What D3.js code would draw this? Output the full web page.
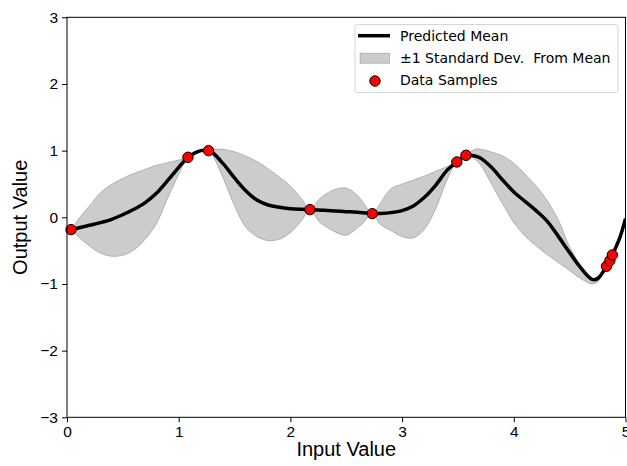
<!DOCTYPE html>
<html>
<head>
<meta charset="utf-8">
<script src="https://cdn.jsdelivr.net/npm/d3@7"></script>
<style>
  html, body { margin: 0; padding: 0; background: #fff; }
  svg { display: block; }
</style>
</head>
<body>
<script>
// ---- data ----
const xGrid = [0, 0.036, 0.1, 0.2, 0.3, 0.4, 0.5, 0.6, 0.7, 0.8, 0.9, 1.0, 1.083, 1.15, 1.2, 1.267, 1.3, 1.4, 1.5, 1.6, 1.7, 1.8, 1.9, 2.0, 2.1, 2.175, 2.25, 2.3, 2.4, 2.5, 2.6, 2.65, 2.733, 2.8, 2.9, 3.0, 3.1, 3.2, 3.3, 3.4, 3.49, 3.572, 3.65, 3.7, 3.8, 3.9, 4.0, 4.1, 4.2, 4.3, 4.4, 4.5, 4.6, 4.7, 4.75, 4.83, 4.882, 4.95, 5.0];
const meanValues = [-0.20, -0.185, -0.16, -0.12, -0.08, -0.03, 0.04, 0.12, 0.22, 0.36, 0.55, 0.75, 0.90, 0.97, 1.00, 1.00, 0.975, 0.80, 0.59, 0.40, 0.26, 0.185, 0.15, 0.13, 0.12, 0.115, 0.11, 0.105, 0.095, 0.085, 0.075, 0.07, 0.055, 0.058, 0.07, 0.10, 0.17, 0.30, 0.48, 0.70, 0.83, 0.93, 0.92, 0.89, 0.75, 0.56, 0.38, 0.24, 0.10, -0.06, -0.29, -0.53, -0.76, -0.93, -0.92, -0.735, -0.565, -0.30, -0.02];
const upperValues = [-0.16, -0.185, -0.03, 0.17, 0.37, 0.495, 0.585, 0.66, 0.72, 0.78, 0.82, 0.86, 0.90, 0.97, 1.005, 1.00, 1.02, 1.02, 0.985, 0.92, 0.84, 0.73, 0.61, 0.47, 0.28, 0.115, 0.26, 0.33, 0.42, 0.44, 0.33, 0.23, 0.055, 0.20, 0.43, 0.50, 0.56, 0.62, 0.69, 0.76, 0.83, 0.93, 1.02, 1.025, 0.98, 0.92, 0.81, 0.65, 0.47, 0.25, -0.04, -0.44, -0.72, -0.92, -0.89, -0.735, -0.565, -0.28, 0.0];
const lowerValues = [-0.24, -0.185, -0.29, -0.43, -0.54, -0.585, -0.57, -0.49, -0.33, -0.10, 0.28, 0.64, 0.90, 0.965, 0.995, 1.00, 0.94, 0.58, 0.17, -0.15, -0.29, -0.35, -0.33, -0.23, -0.05, 0.115, -0.05, -0.12, -0.22, -0.27, -0.16, -0.09, 0.055, -0.10, -0.20, -0.29, -0.31, -0.18, 0.12, 0.55, 0.83, 0.93, 0.87, 0.79, 0.50, 0.20, -0.08, -0.28, -0.43, -0.56, -0.68, -0.80, -0.92, -1.00, -0.97, -0.735, -0.565, -0.32, -0.04];
const sampleX = [0.036, 1.083, 1.267, 2.175, 2.733, 3.49, 3.572, 4.83, 4.86, 4.882];
const sampleY = [-0.185, 0.90, 1.00, 0.115, 0.055, 0.83, 0.93, -0.735, -0.65, -0.565];
const xTicks = [0, 1, 2, 3, 4, 5];
const yTicks = [-3, -2, -1, 0, 1, 2, 3];
const legendLabels = ["Predicted Mean", "\u00b11 Standard Dev.\u00a0 From Mean", "Data Samples"];

// ---- layout ----
const W = 627, H = 466;
const pL = 67, pR = 625.5, pT = 17.3, pB = 417.3;

const svg = d3.select("body").append("svg").attr("width", W).attr("height", H);

const x = d3.scaleLinear().domain([0, 5]).range([pL, pR]);
const y = d3.scaleLinear().domain([-3, 3]).range([pB, pT]);

svg.append("defs").append("clipPath").attr("id", "clip")
  .append("rect").attr("x", pL).attr("y", pT).attr("width", pR - pL).attr("height", pB - pT);

const rows = xGrid.map((v, i) => ({ x: v, m: meanValues[i], u: upperValues[i], l: lowerValues[i] }));
const smooth = d3.curveCatmullRom.alpha(0.5);

const plot = svg.append("g").attr("clip-path", "url(#clip)");

plot.append("path")
  .datum(rows)
  .attr("d", d3.area().x(d => x(d.x)).y0(d => y(d.l)).y1(d => y(d.u)).curve(smooth))
  .attr("fill", "#cccccc")
  .attr("stroke", "rgba(0,0,0,0.2)")
  .attr("stroke-width", 1);

plot.append("path")
  .datum(rows)
  .attr("d", d3.line().x(d => x(d.x)).y(d => y(d.m)).curve(smooth))
  .attr("fill", "none")
  .attr("stroke", "#000")
  .attr("stroke-width", 3.5)
  .attr("stroke-linejoin", "round");

svg.append("g").selectAll("circle")
  .data(sampleX.map((v, i) => [v, sampleY[i]]))
  .join("circle")
  .attr("cx", d => x(d[0]))
  .attr("cy", d => y(d[1]))
  .attr("r", 5.2)
  .attr("fill", "#ff0000")
  .attr("stroke", "#000")
  .attr("stroke-width", 1);

// ---- axes ----
const fmt = d => d3.format("d")(d).replace("-", "\u2212");
const xAxis = svg.append("g").attr("transform", `translate(0,${pB})`)
  .call(d3.axisBottom(x).tickValues(xTicks).tickSize(5).tickPadding(4).tickFormat(fmt));
const yAxis = svg.append("g").attr("transform", `translate(${pL},0)`)
  .call(d3.axisLeft(y).tickValues(yTicks).tickSize(5).tickPadding(4).tickFormat(fmt));
[xAxis, yAxis].forEach(a => {
  a.select(".domain").remove();
  a.selectAll("text").attr("font-family", "'Liberation Sans', Arial, sans-serif").attr("font-size", 15.5).attr("fill", "#000");
  a.selectAll("line").attr("stroke", "#000").attr("stroke-width", 1);
});

// spines
svg.append("rect").attr("x", pL).attr("y", pT).attr("width", pR - pL).attr("height", pB - pT)
  .attr("fill", "none").attr("stroke", "#000").attr("stroke-width", 1);

// axis titles
svg.append("text").attr("x", (pL + pR) / 2).attr("y", 456)
  .attr("text-anchor", "middle").attr("font-family", "'Liberation Sans', Arial, sans-serif")
  .attr("font-size", 20).text("Input Value");
svg.append("text").attr("transform", `translate(27,${(pT + pB) / 2}) rotate(-90)`)
  .attr("text-anchor", "middle").attr("font-family", "'Liberation Sans', Arial, sans-serif")
  .attr("font-size", 20).text("Output Value");

// ---- legend ----
const lg = svg.append("g");
lg.append("rect").attr("x", 355).attr("y", 24.5).attr("width", 263).attr("height", 68).attr("rx", 3)
  .attr("fill", "rgba(255,255,255,0.8)").attr("stroke", "#d6d6d6").attr("stroke-width", 1);
lg.append("line").attr("x1", 358).attr("x2", 390).attr("y1", 35.7).attr("y2", 35.7)
  .attr("stroke", "#000").attr("stroke-width", 3.5);
lg.append("rect").attr("x", 360).attr("y", 53.3).attr("width", 29.5).attr("height", 10)
  .attr("fill", "#cccccc").attr("stroke", "rgba(0,0,0,0.2)").attr("stroke-width", 1);
lg.append("circle").attr("cx", 375).attr("cy", 81).attr("r", 5.2)
  .attr("fill", "#ff0000").attr("stroke", "#000").attr("stroke-width", 1);
const ly = [40.6, 62.8, 84.8];
lg.selectAll("text.lbl").data(legendLabels).join("text").attr("class", "lbl")
  .attr("x", 400).attr("y", (d, i) => ly[i])
  .attr("font-family", "'DejaVu Sans', sans-serif").attr("font-size", 14)
  .attr("fill", "#000")
  .style("white-space", "pre")
  .text(d => d);
</script>
</body>
</html>
